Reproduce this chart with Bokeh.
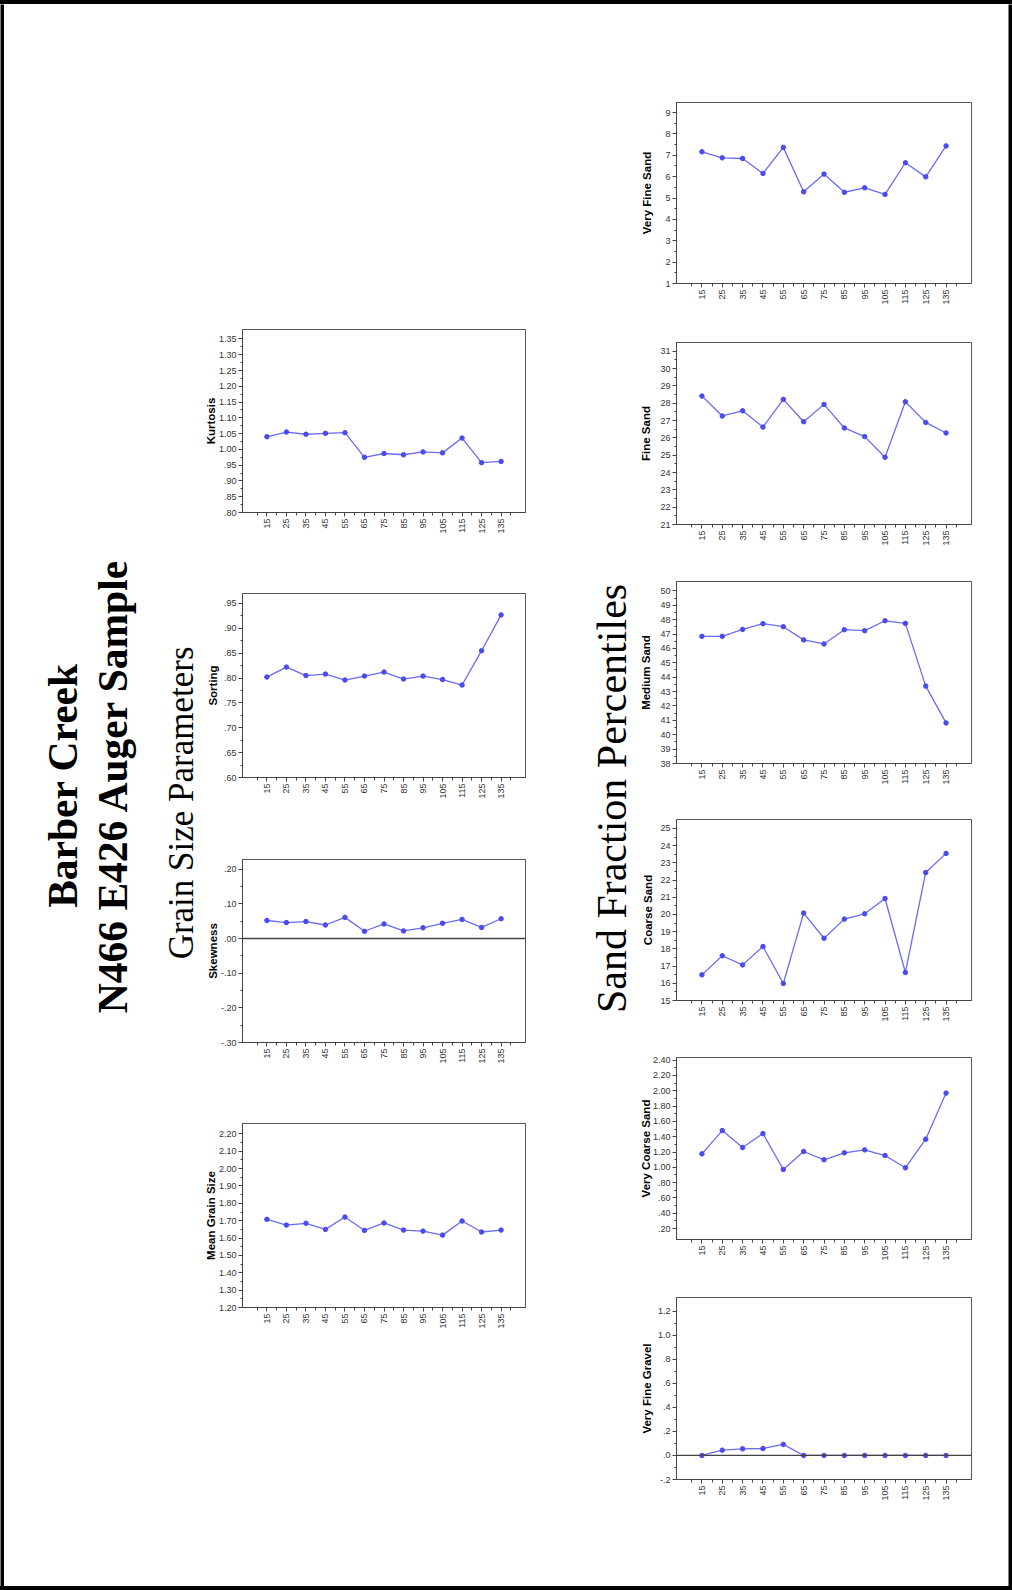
import math
from bokeh.plotting import figure
from bokeh.models import Range1d, FixedTicker, Span, Spacer, Div
from bokeh.layouts import row, column
from bokeh.embed import file_html
from bokeh.resources import INLINE
from bokeh.core.properties import value

# ---------------- data ----------------
depths = [15, 25, 35, 45, 55, 65, 75, 85, 95, 105, 115, 125, 135]
depth_minor = [10, 20, 30, 40, 50, 60, 70, 80, 90, 100, 110, 120, 130, 140]

kurtosis = [1.040, 1.055, 1.048, 1.051, 1.053, 0.975, 0.987, 0.983, 0.992, 0.989, 1.036, 0.958, 0.962]
sorting = [0.802, 0.822, 0.805, 0.808, 0.796, 0.804, 0.812, 0.798, 0.804, 0.797, 0.786, 0.855, 0.927]
skewness = [0.052, 0.046, 0.049, 0.039, 0.061, 0.021, 0.042, 0.022, 0.031, 0.044, 0.055, 0.032, 0.057]
mean_grain_size = [1.708, 1.675, 1.685, 1.650, 1.721, 1.644, 1.687, 1.646, 1.640, 1.617, 1.698, 1.635, 1.646]

very_fine_sand = [7.16, 6.88, 6.85, 6.15, 7.37, 5.29, 6.12, 5.27, 5.48, 5.17, 6.65, 5.99, 7.44]
fine_sand = [28.41, 27.26, 27.56, 26.62, 28.22, 26.93, 27.93, 26.57, 26.07, 24.88, 28.08, 26.89, 26.28]
medium_sand = [46.84, 46.84, 47.32, 47.72, 47.51, 46.59, 46.31, 47.30, 47.23, 47.92, 47.74, 43.38, 40.82]
coarse_sand = [16.49, 17.60, 17.07, 18.14, 15.99, 20.08, 18.62, 19.73, 20.04, 20.93, 16.63, 22.44, 23.55]
very_coarse_sand = [1.176, 1.480, 1.259, 1.441, 0.972, 1.207, 1.098, 1.189, 1.228, 1.154, 0.994, 1.367, 1.970]
very_fine_gravel = [0.0, 0.044, 0.055, 0.058, 0.092, 0.0, 0.0, 0.0, 0.0, 0.0, 0.0, 0.0, 0.0]

kurt_ticks = [0.80, 0.85, 0.90, 0.95, 1.00, 1.05, 1.10, 1.15, 1.20, 1.25, 1.30, 1.35]
kurt_labels = [".80", ".85", ".90", ".95", "1.00", "1.05", "1.10", "1.15", "1.20", "1.25", "1.30", "1.35"]
sort_ticks = [0.60, 0.65, 0.70, 0.75, 0.80, 0.85, 0.90, 0.95]
sort_labels = [".60", ".65", ".70", ".75", ".80", ".85", ".90", ".95"]
skew_ticks = [-0.30, -0.20, -0.10, 0.00, 0.10, 0.20]
skew_labels = ["-.30", "-.20", "-.10", ".00", ".10", ".20"]
mean_ticks = [1.20, 1.30, 1.40, 1.50, 1.60, 1.70, 1.80, 1.90, 2.00, 2.10, 2.20]
mean_labels = ["1.20", "1.30", "1.40", "1.50", "1.60", "1.70", "1.80", "1.90", "2.00", "2.10", "2.20"]
vfs_ticks = [1, 2, 3, 4, 5, 6, 7, 8, 9]
vfs_labels = ["1", "2", "3", "4", "5", "6", "7", "8", "9"]
fs_ticks = [21, 22, 23, 24, 25, 26, 27, 28, 29, 30, 31]
fs_labels = ["21", "22", "23", "24", "25", "26", "27", "28", "29", "30", "31"]
ms_ticks = [38, 39, 40, 41, 42, 43, 44, 45, 46, 47, 48, 49, 50]
ms_labels = ["38", "39", "40", "41", "42", "43", "44", "45", "46", "47", "48", "49", "50"]
cs_ticks = [15, 16, 17, 18, 19, 20, 21, 22, 23, 24, 25]
cs_labels = ["15", "16", "17", "18", "19", "20", "21", "22", "23", "24", "25"]
vcs_ticks = [0.20, 0.40, 0.60, 0.80, 1.00, 1.20, 1.40, 1.60, 1.80, 2.00, 2.20, 2.40]
vcs_labels = [".20", ".40", ".60", ".80", "1.00", "1.20", "1.40", "1.60", "1.80", "2.00", "2.20", "2.40"]
vfg_ticks = [-0.2, 0.0, 0.2, 0.4, 0.6, 0.8, 1.0, 1.2]
vfg_labels = ["-.2", ".0", ".2", ".4", ".6", ".8", "1.0", "1.2"]

# ---------------- style ----------------
LINE_COLOR = "#6b6bf5"
DOT_COLOR = "#4a4aee"
AXIS_COLOR = "#444444"
SANS = "Liberation Sans"
SERIF = "Liberation Serif"

PAGE_W, PAGE_H = 1012, 1590
BW = 4
PAGE_TOP = BW
PAGE_BOTTOM = PAGE_H - BW
CONTENT_H = PAGE_BOTTOM - PAGE_TOP
MBT = 4
MBB = 30


def make_panel(label, vals, yt, yl, ystart, yend, fig_w, frame_left_off, frame_w, frame_h,
               label_standoff=1, zero=False):
    minor = [(a + b) / 2 for a, b in zip(yt[:-1], yt[1:])]
    p = figure(width=fig_w, height=frame_h + MBT + MBB,
               x_range=Range1d(2.5, 147.5), y_range=Range1d(ystart, yend),
               output_backend="svg", toolbar_location=None,
               min_border_left=frame_left_off, min_border_right=fig_w - frame_left_off - frame_w,
               min_border_top=MBT, min_border_bottom=MBB)
    p.grid.visible = False
    p.outline_line_color = "#555555"
    p.outline_line_width = 1
    p.background_fill_color = "white"
    p.border_fill_color = "white"

    p.xaxis.ticker = FixedTicker(ticks=depths, minor_ticks=depth_minor)
    p.xaxis.major_label_overrides = {d: str(d) for d in depths}
    p.xaxis.major_label_orientation = math.pi / 2
    p.yaxis.ticker = FixedTicker(ticks=yt, minor_ticks=minor)
    p.yaxis.major_label_overrides = {t: s for t, s in zip(yt, yl)}
    for ax in (p.xaxis[0], p.yaxis[0]):
        ax.axis_line_color = AXIS_COLOR
        ax.major_tick_line_color = AXIS_COLOR
        ax.minor_tick_line_color = AXIS_COLOR
        ax.major_tick_in = 0
        ax.minor_tick_in = 0
        ax.major_tick_out = 4
        ax.minor_tick_out = 2
        ax.major_label_text_font = SANS
        ax.major_label_text_font_size = "9px"
        ax.major_label_text_color = "#333333"
        ax.major_label_standoff = 2
    p.xaxis.minor_tick_out = 3
    p.yaxis.axis_label = label
    p.yaxis.axis_label_text_font = SANS
    p.yaxis.axis_label_text_font_style = "bold"
    p.yaxis.axis_label_text_font_size = "11.5px"
    p.yaxis.axis_label_text_color = "black"
    p.yaxis.axis_label_standoff = label_standoff

    if zero:
        p.add_layout(Span(location=0, dimension="width", line_color=AXIS_COLOR, line_width=1.3))
    p.line(depths, vals, line_color=LINE_COLOR, line_width=1.3)
    p.scatter(depths, vals, marker="circle", size=4.5, fill_color=DOT_COLOR, line_color=DOT_COLOR)
    return p


def stack(col_w, items):
    children = []
    cur = PAGE_TOP
    for fig, ftop in items:
        top = ftop - MBT
        children.append(Spacer(width=col_w, height=top - cur))
        children.append(fig)
        cur = top + fig.height
    children.append(Spacer(width=col_w, height=PAGE_BOTTOM - cur))
    return column(*children)


def blank(w, h, color="white"):
    p = figure(width=w, height=h, x_range=Range1d(0, w), y_range=Range1d(0, h),
               output_backend="svg", toolbar_location=None,
               x_axis_location=None, y_axis_location=None,
               min_border=0, background_fill_color=color, border_fill_color=color)
    p.grid.visible = False
    p.outline_line_color = None
    return p


# ---------------- left column (page x 200 .. 540) ----------------
LX, LW = 200, 340
left_specs = [
    ("Kurtosis", kurtosis, kurt_ticks, kurt_labels, 0.80, 1.38, 242, 525, 329, 512, -1, False),
    ("Sorting", sorting, sort_ticks, sort_labels, 0.60, 0.97, 238, 525, 593, 777, 2, False),
    ("Skewness", skewness, skew_ticks, skew_labels, -0.30, 0.228, 241, 525, 859, 1042, -1, True),
    ("Mean Grain Size", mean_grain_size, mean_ticks, mean_labels, 1.20, 2.26, 242, 525, 1123, 1307, -1, False),
]
left_items = []
for lab, vals, yt, yl, y0, y1, fl, fr, ft, fb, so, z in left_specs:
    left_items.append((make_panel(lab, vals, yt, yl, y0, y1, LW, fl - LX, fr - fl, fb - ft,
                                  label_standoff=so, zero=z), ft))
left_col = stack(LW, left_items)

# ---------------- right column (page x 634 .. 1008) ----------------
RX = 634
RW = PAGE_W - BW - RX
right_specs = [
    ("Very Fine Sand", very_fine_sand, vfs_ticks, vfs_labels, 1, 9.47, 665, 971, 102, 283, 9, False),
    ("Fine Sand", fine_sand, fs_ticks, fs_labels, 21, 31.5, 669, 971, 342, 524, 5, False),
    ("Medium Sand", medium_sand, ms_ticks, ms_labels, 38, 50.65, 669, 971, 581, 763, 5, False),
    ("Coarse Sand", coarse_sand, cs_ticks, cs_labels, 15, 25.52, 669, 971, 819, 1000, 3, False),
    ("Very Coarse Sand", very_coarse_sand, vcs_ticks, vcs_labels, 0.057, 2.435, 676, 971, 1057, 1239, -2, False),
    ("Very Fine Gravel", very_fine_gravel, vfg_ticks, vfg_labels, -0.2, 1.314, 672, 971, 1297, 1479, 2, True),
]
right_items = []
for lab, vals, yt, yl, y0, y1, fl, fr, ft, fb, so, z in right_specs:
    right_items.append((make_panel(lab, vals, yt, yl, y0, y1, RW, fl - RX, fr - fl, fb - ft,
                                   label_standoff=so, zero=z), ft))
right_col = stack(RW, right_items)

# ---------------- title strips ----------------
def py(y):
    return CONTENT_H - (y - PAGE_TOP)

T1X, T1W = BW, LX - BW
t1 = blank(T1W, CONTENT_H)
t1.text(x=[62 - T1X], y=[py(785)], text=["Barber Creek"], angle=math.pi / 2,
        text_font=value(SERIF), text_font_style="bold", text_font_size="41.5px",
        text_align="center", text_baseline="middle", text_color="black")
t1.text(x=[112 - T1X], y=[py(785)], text=["N466 E426 Auger Sample"], angle=math.pi / 2,
        text_font=value(SERIF), text_font_style="bold", text_font_size="41.5px",
        text_align="center", text_baseline="middle", text_color="black")
t1.text(x=[181 - T1X], y=[py(798)], text=["Grain Size  Parameters"], angle=math.pi / 2,
        text_font=value(SERIF), text_font_style="normal", text_font_size="35px",
        text_align="center", text_baseline="middle", text_color="black")

T2X, T2W = LX + LW, RX - (LX + LW)
t2 = blank(T2W, CONTENT_H)
t2.text(x=[611 - T2X], y=[py(798)], text=["Sand Fraction Percentiles"], angle=math.pi / 2,
        text_font=value(SERIF), text_font_style="normal", text_font_size="42px",
        text_align="center", text_baseline="middle", text_color="black")

content = row(t1, left_col, t2, right_col)

def hbar():
    return Div(text="", width=PAGE_W, height=BW, margin=0,
               styles={"background-color": "black"})

page = column(
    hbar(),
    row(blank(BW, CONTENT_H, "black"), content, blank(BW, CONTENT_H, "black")),
    hbar(),
)

open("out.html", "w").write(file_html(page, INLINE))
